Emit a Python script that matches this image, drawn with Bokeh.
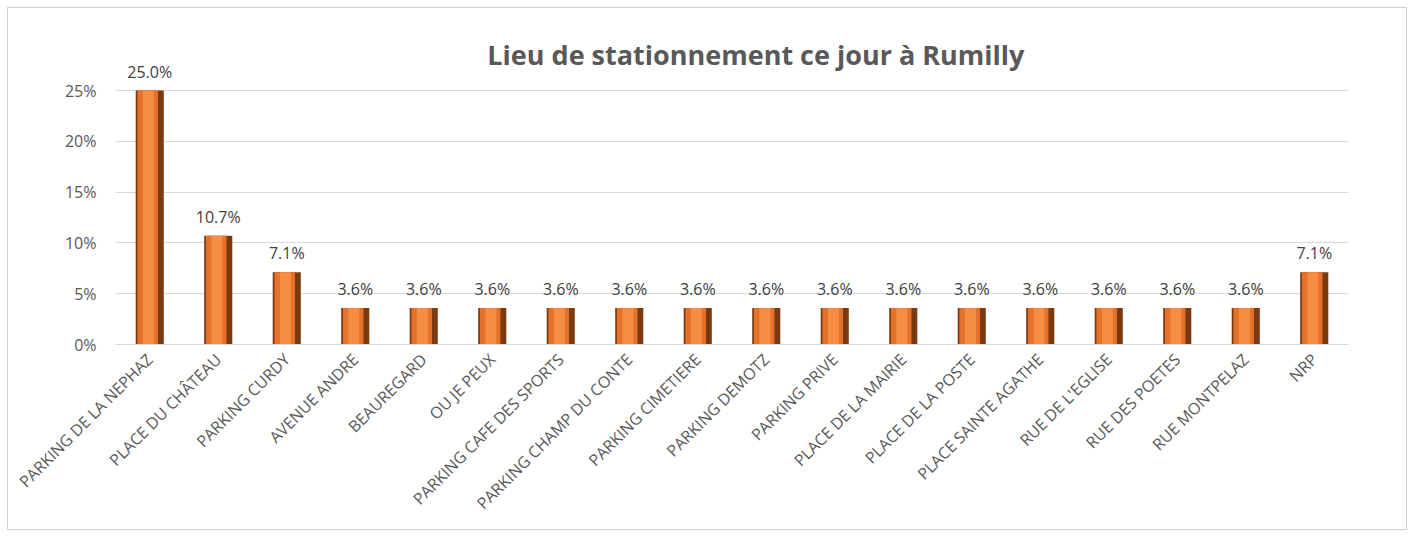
from bokeh.plotting import figure
from bokeh.models import FixedTicker, Label, LabelSet, ColumnDataSource, Range1d
from bokeh.core.properties import value
from bokeh.embed import file_html
from bokeh.resources import INLINE
from math import pi

categories = ["PARKING DE LA NEPHAZ", "PLACE DU CHÂTEAU", "PARKING CURDY", "AVENUE ANDRE",
              "BEAUREGARD", "OU JE PEUX", "PARKING CAFE DES SPORTS", "PARKING CHAMP DU CONTE",
              "PARKING CIMETIERE", "PARKING DEMOTZ", "PARKING PRIVE", "PLACE DE LA MAIRIE",
              "PLACE DE LA POSTE", "PLACE SAINTE AGATHE", "RUE DE L'EGLISE", "RUE DES POETES",
              "RUE MONTPELAZ", "NRP"]
values = [0.250, 0.107, 0.071, 0.036, 0.036, 0.036, 0.036, 0.036, 0.036, 0.036, 0.036,
          0.036, 0.036, 0.036, 0.036, 0.036, 0.036, 0.071]
y_ticks = [0, 0.05, 0.10, 0.15, 0.20, 0.25]
y_tick_labels = ["0%", "5%", "10%", "15%", "20%", "25%"]
title_text = "Lieu de stationnement  ce jour à Rumilly"

xs = list(range(len(categories)))
labels = [f"{v*100:.1f}%" for v in values]
src = ColumnDataSource(dict(x=xs, top=values, lab=labels,
                            xl=[x - 0.03 for x in xs], xh=[x - 0.02 for x in xs]))

FONT = "Open Sans"
p = figure(width=1400, height=523, output_backend="svg", toolbar_location=None,
           x_range=Range1d(-0.5, len(categories) - 0.5),
           y_range=Range1d(0, 0.25 * 314 / 254),
           min_border_left=107, min_border_right=60, min_border_top=22, min_border_bottom=187)
p.styles = {"border": "1px solid #d0d0d0", "margin-left": "7px", "margin-top": "7px"}
p.outline_line_color = None
p.background_fill_color = "white"
p.border_fill_color = "white"

# bars with a pseudo 3D shading
p.vbar(x="x", top="top", width=0.41, bottom=0, source=src, fill_color="#7a3a10", line_color=None)
p.vbar(x="xl", top="top", width=0.30, bottom=0, source=src, fill_color="#e5722a", line_color=None)
p.vbar(x="xh", top="top", width=0.16, bottom=0, source=src, fill_color="#f58d42", line_color=None)

p.add_layout(LabelSet(x="x", y="top", text="lab", source=src, text_align="center",
                      text_baseline="alphabetic", y_offset=13, text_font=value(FONT),
                      text_font_size="16px", text_color="#404040"))

p.add_layout(Label(x=8.90, y=0.25 * (344 - 54) / 254, text=title_text, text_align="center",
                   text_baseline="alphabetic", text_font=FONT, text_font_style="bold",
                   text_font_size="27px", text_color="#595959"))

p.xgrid.grid_line_color = None
p.ygrid.ticker = FixedTicker(ticks=y_ticks)
p.ygrid.grid_line_color = "#d9d9d9"

p.yaxis.ticker = FixedTicker(ticks=y_ticks)
p.yaxis.major_label_overrides = {t: l for t, l in zip(y_ticks, y_tick_labels)}
p.yaxis.axis_line_color = None
p.yaxis.major_tick_line_color = None
p.yaxis.minor_tick_line_color = None
p.yaxis.major_label_standoff = 13
p.yaxis.major_label_text_font = FONT
p.yaxis.major_label_text_font_size = "16px"
p.yaxis.major_label_text_color = "#595959"

p.xaxis.ticker = FixedTicker(ticks=xs)
p.xaxis.major_label_overrides = {x: c for x, c in zip(xs, categories)}
p.xaxis.major_label_orientation = pi / 4
p.xaxis.axis_line_color = "#d9d9d9"
p.xaxis.major_tick_line_color = None
p.xaxis.minor_tick_line_color = None
p.xaxis.major_label_standoff = 6
p.xaxis.major_label_text_font = FONT
p.xaxis.major_label_text_font_size = "16px"
p.xaxis.major_label_text_color = "#595959"

open("out.html", "w").write(file_html(p, INLINE))
